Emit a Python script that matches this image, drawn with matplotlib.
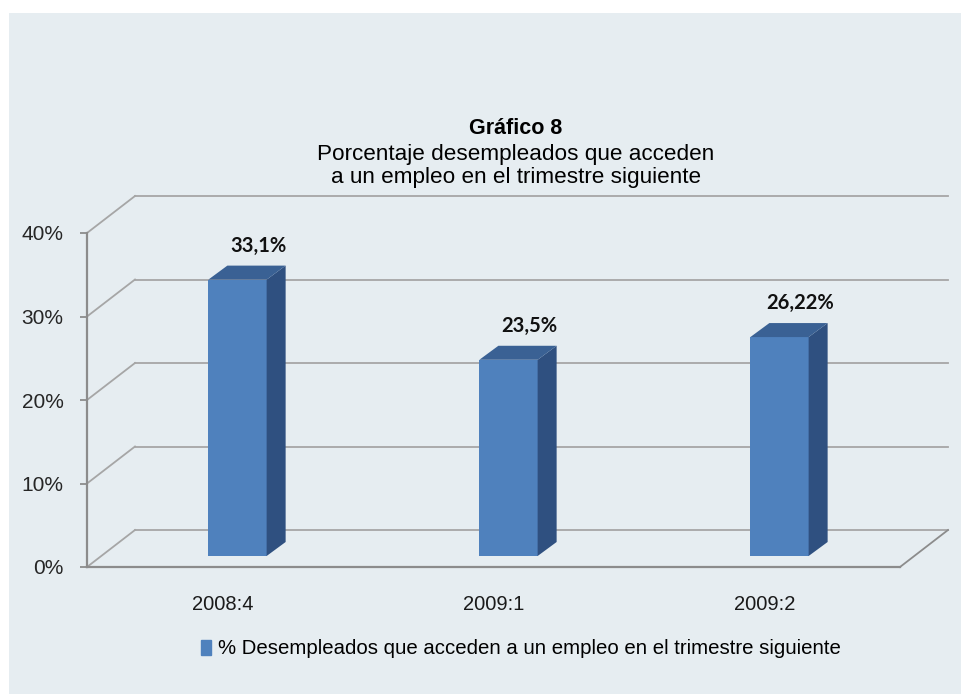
import matplotlib.pyplot as plt
import matplotlib.transforms as mtransforms
from matplotlib.patches import Polygon, Rectangle
import numpy as np

# datos del grafico
categorias = ['2008:4', '2009:1', '2009:2']
valores = [33.1, 23.5, 26.22]
etiquetas = ['33,1%', '23,5%', '26,22%']
ticks_y = [0, 10, 20, 30, 40]
serie = '% Desempleados que acceden a un empleo en el trimestre siguiente'

plt.rcParams['font.family'] = ['Liberation Sans', 'DejaVu Sans']

W, H = 962, 694
fig = plt.figure(figsize=(W / 100, H / 100), dpi=100)
fig.patch.set_facecolor('white')

# fondo gris azulado (con borde blanco arriba e izquierda)
fig.patches.append(Rectangle((9 / W, 0), 1, 1 - 13 / H, transform=fig.transFigure,
                             facecolor='#E6EDF1', edgecolor='none', zorder=-5))

# plano frontal del eje: x 87..900 px, y 567..233 px
ax = fig.add_axes([87 / W, (H - 567) / H, (900 - 87) / W, (567 - 233) / H])
ax.set_facecolor('none')
ax.set_xlim(-0.5, 2.5)
ax.set_ylim(0, 40)

gris = '#A6A6A6'
gris_eje = '#8C8C8C'

# profundidad en pixeles
back_dx, back_dy = 48, 37
bar_dx, bar_dy = 15, 11
dep_dx, dep_dy = 19, 14

back_tr = mtransforms.offset_copy(ax.transData, fig, x=back_dx, y=back_dy, units='dots')
bar_tr = mtransforms.offset_copy(ax.transData, fig, x=bar_dx, y=bar_dy, units='dots')

# pixeles por unidad de datos
sx = (900 - 87) / 3.0
sy = (567 - 233) / 40.0

# rejilla en la pared del fondo + diagonales del lateral
for t in ticks_y:
    ax.plot([-0.5, 2.5], [t, t], color=gris, lw=1.3, transform=back_tr, clip_on=False, zorder=1)
    ax.plot([-0.5, -0.5 + back_dx / sx], [t, t + back_dy / sy], color=gris, lw=1.3,
            clip_on=False, zorder=1)
# borde derecho del suelo
ax.plot([2.5, 2.5 + back_dx / sx], [0, back_dy / sy], color=gris_eje, lw=1.3,
        clip_on=False, zorder=1)

# barras 3D
x = np.arange(len(categorias))
w = 0.215
frente = '#4F81BD'
lado = '#2F5080'
techo = '#3A6194'
ax.bar(x, valores, width=w, color=frente, transform=bar_tr, zorder=3)
ddx, ddy = dep_dx / sx, dep_dy / sy
for xi, v in zip(x, valores):
    xr = xi + w / 2
    xl = xi - w / 2
    side = Polygon([(xr, 0), (xr + ddx, ddy), (xr + ddx, v + ddy), (xr, v)],
                   closed=True, facecolor=lado, edgecolor='none', transform=bar_tr, zorder=3)
    top = Polygon([(xl, v), (xl + ddx, v + ddy), (xr + ddx, v + ddy), (xr, v)],
                  closed=True, facecolor=techo, edgecolor='none', transform=bar_tr, zorder=3)
    ax.add_patch(side)
    ax.add_patch(top)

for xi, v, lab in zip(x, valores, etiquetas):
    ax.annotate(lab, (xi, v), xytext=(36 * 0.72, 45 * 0.72), textcoords='offset points',
                ha='center', va='center', fontsize=14.5, fontweight='bold',
                family=['Lato', 'DejaVu Sans'], color='#111111', zorder=5)

# ejes
for s in ['top', 'right']:
    ax.spines[s].set_visible(False)
ax.spines['left'].set_color(gris_eje)
ax.spines['bottom'].set_color(gris_eje)
ax.spines['left'].set_linewidth(1.6)
ax.spines['bottom'].set_linewidth(1.6)
ax.set_yticks(ticks_y)
ax.set_yticklabels([f'{t}%' for t in ticks_y], fontsize=15, color='#262626')
ax.set_xticks(x)
ax.set_xticklabels(categorias, fontsize=14.5, color='#1A1A1A')
ax.tick_params(axis='y', length=5, color=gris_eje, width=1.3, pad=12)
ax.tick_params(axis='x', length=0, pad=20)

# titulo
cx = 516 / W
fig.text(cx, 1 - 128 / H, 'Gráfico 8', ha='center', va='center', fontsize=15.5, fontweight='bold')
fig.text(cx, 1 - 166 / H, 'Porcentaje desempleados que acceden\na un empleo en el trimestre siguiente',
         ha='center', va='center', fontsize=16.2, linespacing=1.12)

# leyenda
ax.legend([Rectangle((0, 0), 1, 1, color=frente)], [serie], loc='center',
          bbox_to_anchor=(521 / W, 1 - 649 / H), bbox_transform=fig.transFigure,
          frameon=False, fontsize=14.7, handlelength=0.5, handleheight=0.7,
          handletextpad=0.35)

fig.savefig('out.png', dpi=100)
